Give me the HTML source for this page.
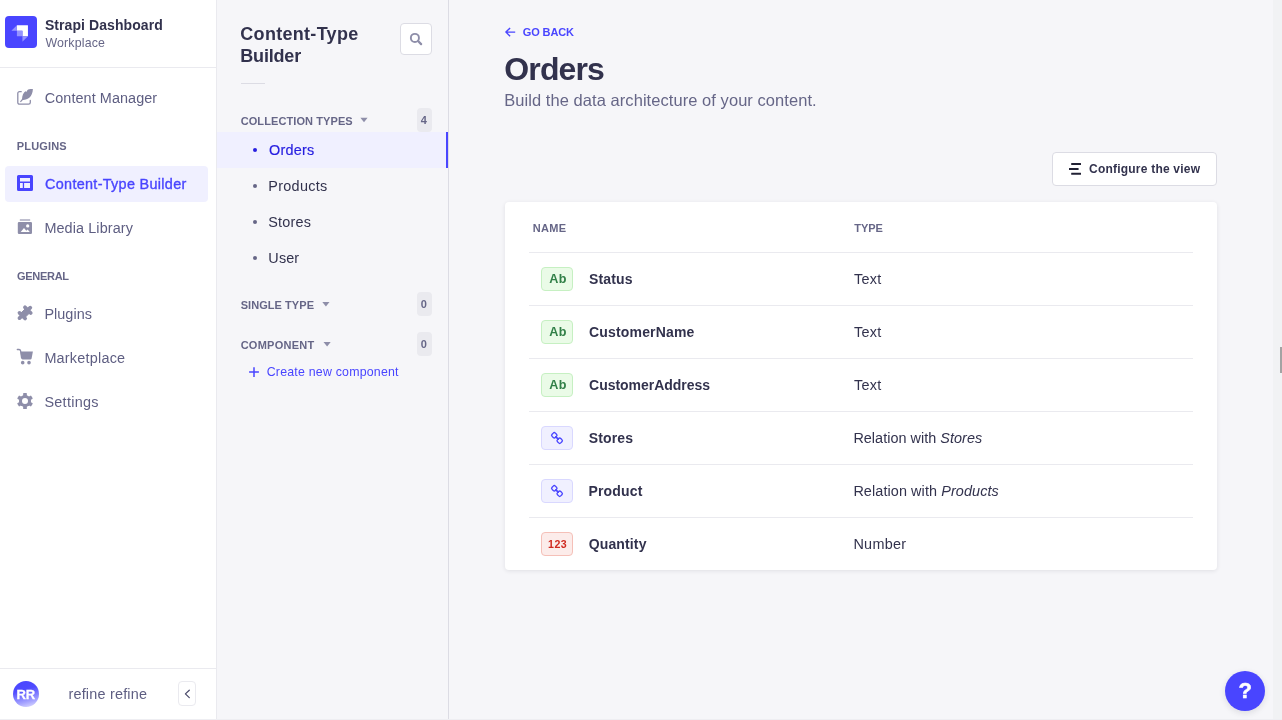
<!DOCTYPE html>
<html lang="en">
<head>
<meta charset="utf-8">
<title>Strapi Dashboard</title>
<style>
*{box-sizing:border-box;margin:0;padding:0}
html,body{width:1282px;height:720px;overflow:hidden}
body{font-family:"Liberation Sans",sans-serif;background:#f6f6f9;color:#32324d;position:relative}
.abs{position:absolute}
.t{position:absolute;white-space:nowrap;line-height:1}
#txt{position:absolute;left:0;top:0;width:1282px;height:720px;z-index:6;will-change:transform}
#nav{position:absolute;left:0;top:0;width:217px;height:719px;background:#fff;border-right:1px solid #eaeaef}
#logo{position:absolute;left:5px;top:16px;width:32px;height:32px;border-radius:4px;background:#4945ff}
.navdiv{position:absolute;left:0;width:216px;height:1px;background:#eaeaef}
#active{position:absolute;left:5px;top:166px;width:203px;height:36px;border-radius:4px;background:#f0f0ff}
#sub{position:absolute;left:217px;top:0;width:232px;height:719px;background:#f6f6f9;border-right:1px solid #dcdce4}
.bullet{position:absolute;width:4px;height:4px;border-radius:50%;background:#666687;left:253px}
.badge{position:absolute;left:417px;width:15px;height:24px;border-radius:4px;background:#eaeaef}
#card{position:absolute;left:505px;top:202px;width:712px;height:368px;background:#fff;border-radius:4px;box-shadow:0 1px 4px rgba(33,33,52,.1)}
.rowdiv{position:absolute;left:529px;width:664px;height:1px;background:#eaeaef}
.ico{position:absolute;left:541px;width:32px;height:24px;border-radius:4px;border:1px solid}
.ico.txt{background:#eafbe7;border-color:#c6f0c2}
.ico.rel{background:#f0f0ff;border-color:#d9d8ff}
.ico.num{background:#fcecea;border-color:#f5c0b8}
</style>
</head>
<body>
<div id="nav"></div>
<div id="logo"></div>
<div class="navdiv" style="top:67px"></div>
<div id="active"></div>
<div class="navdiv" style="top:668px"></div>
<div class="abs" style="left:13px;top:681px;width:26px;height:26px;border-radius:50%;background:linear-gradient(165deg,#4945ff 0%,#4f4bff 35%,#a5a3ff 75%,#e6e5ff 100%)"></div>
<div class="abs" style="left:178px;top:681px;width:18px;height:25px;border:1px solid #eaeaef;border-radius:4px;background:#fff"></div>

<div id="sub"></div>
<div class="abs" style="left:400px;top:23px;width:32px;height:32px;border:1px solid #dcdce4;border-radius:4px;background:#fff"></div>
<div class="abs" style="left:241px;top:83px;width:24px;height:1px;background:#dcdce4"></div>
<div class="badge" style="top:108px"></div>
<div class="abs" style="left:217px;top:132px;width:231px;height:36px;background:#f0f0ff;border-right:2px solid #4945ff"></div>
<div class="bullet" style="top:148px;background:#271fe0"></div>
<div class="bullet" style="top:184px"></div>
<div class="bullet" style="top:220px"></div>
<div class="bullet" style="top:256px"></div>
<div class="badge" style="top:292px"></div>
<div class="badge" style="top:332px"></div>

<div class="abs" style="left:1052px;top:152px;width:165px;height:34px;border:1px solid #dcdce4;border-radius:4px;background:#fff"></div>
<div id="card"></div>
<div class="rowdiv" style="top:252px"></div>
<div class="rowdiv" style="top:305px"></div>
<div class="rowdiv" style="top:358px"></div>
<div class="rowdiv" style="top:411px"></div>
<div class="rowdiv" style="top:464px"></div>
<div class="rowdiv" style="top:517px"></div>
<div class="ico txt" style="top:267px"></div>
<div class="ico txt" style="top:320px"></div>
<div class="ico txt" style="top:373px"></div>
<div class="ico rel" style="top:426px"></div>
<div class="ico rel" style="top:479px"></div>
<div class="ico num" style="top:532px"></div>

<div class="abs" style="left:1225px;top:671px;width:40px;height:40px;border-radius:50%;background:#4945ff;box-shadow:0 2px 6px rgba(33,33,52,.12)"></div>
<div class="abs" style="left:1273px;top:0;width:9px;height:720px;background:#f1f2f4"></div>
<div class="abs" style="left:1280px;top:347px;width:2px;height:26px;background:#a3a3a3"></div>
<div class="abs" style="left:0;top:719px;width:1282px;height:1px;background:#eeeef2"></div>
<svg class="abs" style="left:0;top:0;z-index:5;pointer-events:none" width="1282" height="720" viewBox="0 0 1282 720">
<!-- strapi logo -->
<g transform="translate(5.700 15.200)" style="filter:blur(.25px)">
<path d="M22.03 9.97H11.21v5.51h5.52V21h5.51V10.18a.21.21 0 0 0-.21-.21Z" fill="#fff"/>
<path d="M11.21 15.48h5.3c.12 0 .22.1.22.22V21h-5.3a.21.21 0 0 1-.22-.21v-5.3ZM16.73 21h5.51l-5.33 5.33c-.07.07-.18.02-.18-.08V21ZM11.21 15.48H5.96c-.1 0-.14-.11-.08-.18l5.33-5.33v5.51Z" fill="#9593ff"/>
</g>
<!-- content manager (write) -->
<path d="M21.200 91.650H19.500A1.700 1.700 0 0 0 17.800 93.350V102.500A1.700 1.700 0 0 0 19.500 104.200H28.600A1.700 1.700 0 0 0 30.300 102.500V100.500" fill="none" stroke="#8e8ea9" stroke-width="1.300" stroke-linecap="round"/>
<path d="M32.900 89.100C31 88.900 28.600 89.100 27.300 90.200L26.700 91.700L25.500 91.200C23.400 92.700 22.200 95.200 22 99L20 101.600L20.800 102.200L22.900 99.900C27.500 100 32.600 97.300 32.900 89.100Z" fill="#8e8ea9"/>
<!-- content-type builder (layout) -->
<path fill-rule="evenodd" fill="#4945ff" d="M18.500 175h13a1.500 1.500 0 0 1 1.500 1.500v13a1.500 1.500 0 0 1-1.500 1.500h-13a1.500 1.500 0 0 1-1.500-1.500v-13a1.500 1.500 0 0 1 1.500-1.500ZM20 178v3.400h10V178ZM20 183v5h2.800v-5ZM24.100 183v5H30v-5Z"/>
<!-- media library -->
<rect x="19.800" y="219.200" width="10.400" height="1.500" rx=".3" fill="#8e8ea9" opacity=".75"/>
<rect x="17.800" y="221.900" width="14.200" height="12.100" rx="1.200" fill="#8e8ea9"/>
<circle cx="27.700" cy="225.900" r="1.650" fill="#fff"/>
<path d="M20.700 231.900L24 227.900L26.300 230.700L27.600 229.600L29.800 231.900Z" fill="#fff"/>
<!-- plugins (puzzle) -->
<g stroke="#8e8ea9" stroke-width="3.800" stroke-linecap="round" fill="#8e8ea9">
<path d="M19.500 318.100L30.300 307.700M19.500 312.900l5.600 5.600M25 307.300l5.700 5.700"/>
<path d="M21 313l4-4 4.500 4-4.300 4.300Z" stroke-width="1"/>
</g>
<!-- marketplace (cart) -->
<path d="M17.300 349.500h1.700q1.400 0 1.600 1.400l1 7" fill="none" stroke="#8e8ea9" stroke-width="1.300" stroke-linecap="round"/>
<path d="M20.400 351.600H32.900l-1.300 6.800q-.2 1.100-1.300 1.100h-7.500q-1.100 0-1.300-1.100Z" fill="#8e8ea9"/>
<circle cx="22.700" cy="362.650" r="1.800" fill="#8e8ea9"/><circle cx="29" cy="362.650" r="1.800" fill="#8e8ea9"/>
<!-- settings (gear) -->
<circle cx="25" cy="401" r="6.05" fill="#8e8ea9"/><rect x="23.15" y="393" width="3.7" height="4.5" rx=".6" fill="#8e8ea9" transform="rotate(0 25 401)"/><rect x="23.15" y="393" width="3.7" height="4.5" rx=".6" fill="#8e8ea9" transform="rotate(60 25 401)"/><rect x="23.15" y="393" width="3.7" height="4.5" rx=".6" fill="#8e8ea9" transform="rotate(120 25 401)"/><rect x="23.15" y="393" width="3.7" height="4.5" rx=".6" fill="#8e8ea9" transform="rotate(180 25 401)"/><rect x="23.15" y="393" width="3.7" height="4.5" rx=".6" fill="#8e8ea9" transform="rotate(240 25 401)"/><rect x="23.15" y="393" width="3.7" height="4.5" rx=".6" fill="#8e8ea9" transform="rotate(300 25 401)"/><circle cx="25" cy="401" r="3.0" fill="#fff"/>
<!-- collapse chevron -->
<path d="M189.300 690.200l-3.900 3.700 3.900 3.700" fill="none" stroke="#4a4a6a" stroke-width="1.250" stroke-linecap="round" stroke-linejoin="round"/>
<!-- search -->
<circle cx="414.900" cy="37.900" r="4.050" fill="none" stroke="#8e8ea9" stroke-width="1.900"/>
<path d="M418.300 41.300l2.800 2.800" stroke="#8e8ea9" stroke-width="2.300" stroke-linecap="round"/>
<!-- carets -->
<path d="M360.400 117.800h7.200l-3.600 4.500Z" fill="#8e8ea9"/>
<path d="M322.300 301.900h7.200l-3.600 4.500Z" fill="#8e8ea9"/>
<path d="M323.500 342h7.200l-3.600 4.500Z" fill="#8e8ea9"/>
<!-- plus -->
<path d="M254 367.200v9.800M249.100 372.100h9.800" stroke="#4945ff" stroke-width="1.500"/>
<!-- back arrow -->
<path d="M506 32.100h9.200M510.100 27.900l-4.200 4.200 4.200 4.200" fill="none" stroke="#4945ff" stroke-width="1.400" stroke-linejoin="round"/>
<!-- configure icon -->
<g fill="#212134"><rect x="1071.200" y="163.050" width="9.800" height="2" rx=".3"/><rect x="1069" y="167.950" width="9.600" height="2.100" rx=".3"/><rect x="1071.200" y="172.800" width="9.800" height="2.050" rx=".3"/></g>
<!-- link icons -->
<g fill="none" stroke="#4945ff" stroke-width="1.350">
<rect x="-2.300" y="-2.300" width="4.600" height="4.600" rx="1.500" transform="translate(554.300 435.3) rotate(45)"/>
<rect x="-2.300" y="-2.300" width="4.600" height="4.600" rx="1.500" transform="translate(559.700 440.7) rotate(45)"/>
<path d="M555.900 436.9l2.300 2.300" stroke-width="1.700" stroke-linecap="round"/>
</g>
<g fill="none" stroke="#4945ff" stroke-width="1.350">
<rect x="-2.300" y="-2.300" width="4.600" height="4.600" rx="1.500" transform="translate(554.300 488.3) rotate(45)"/>
<rect x="-2.300" y="-2.300" width="4.600" height="4.600" rx="1.500" transform="translate(559.700 493.7) rotate(45)"/>
<path d="M555.900 489.9l2.300 2.300" stroke-width="1.700" stroke-linecap="round"/>
</g>
</svg>
<div id="txt">
<div class="t" id="brand" style="left:44.95px;top:18.15px;font-size:14.0px;font-weight:700;letter-spacing:0.072px;color:#32324d;">Strapi Dashboard</div>
<div class="t" id="workplace" style="left:45.39px;top:36.54px;font-size:12.36px;font-weight:400;letter-spacing:0.17px;color:#666687;">Workplace</div>
<div class="t" id="cm" style="left:44.82px;top:90.89px;font-size:14.42px;font-weight:400;letter-spacing:0.072px;color:#5e5e82;">Content Manager</div>
<div class="t" id="lplugins" style="left:16.76px;top:141.09px;font-size:11.0px;font-weight:700;letter-spacing:0.165px;color:#666687;">PLUGINS</div>
<div class="t" id="ctb" style="left:45.08px;top:176.69px;font-size:14.42px;font-weight:400;letter-spacing:0.307px;color:#4945ff;-webkit-text-stroke:.35px #4945ff;">Content-Type Builder</div>
<div class="t" id="ml" style="left:44.39px;top:220.79px;font-size:14.42px;font-weight:400;letter-spacing:0.101px;color:#5e5e82;">Media Library</div>
<div class="t" id="lgeneral" style="left:16.97px;top:270.69px;font-size:11.0px;font-weight:700;letter-spacing:-0.292px;color:#666687;">GENERAL</div>
<div class="t" id="plug" style="left:44.39px;top:306.79px;font-size:14.42px;font-weight:400;letter-spacing:0.05px;color:#5e5e82;">Plugins</div>
<div class="t" id="mkt" style="left:44.39px;top:350.69px;font-size:14.42px;font-weight:400;letter-spacing:0.222px;color:#5e5e82;">Marketplace</div>
<div class="t" id="set" style="left:44.42px;top:394.89px;font-size:14.42px;font-weight:400;letter-spacing:0.292px;color:#5e5e82;">Settings</div>
<div class="t" id="rr" style="left:16.38px;top:688.0px;font-size:13.0px;font-weight:700;letter-spacing:0.072px;color:#ffffff;-webkit-text-stroke:.3px #fff;">RR</div>
<div class="t" id="usr" style="left:68.4px;top:686.79px;font-size:14.42px;font-weight:400;letter-spacing:0.213px;color:#5e5e82;">refine refine</div>
<div class="t" id="title1" style="left:240.34px;top:25.06px;font-size:18.0px;font-weight:700;letter-spacing:0.291px;color:#32324d;">Content-Type</div>
<div class="t" id="title2" style="left:240.28px;top:46.76px;font-size:18.0px;font-weight:700;letter-spacing:-0.183px;color:#32324d;">Builder</div>
<div class="t" id="ct" style="left:240.67px;top:115.89px;font-size:11.0px;font-weight:700;letter-spacing:0.092px;color:#666687;">COLLECTION TYPES</div>
<div class="t" id="b4" style="left:420.71px;top:114.89px;font-size:11.0px;font-weight:700;letter-spacing:0.0px;color:#666687;">4</div>
<div class="t" id="orders" style="left:269.03px;top:142.69px;font-size:14.42px;font-weight:400;letter-spacing:0.216px;color:#271fe0;-webkit-text-stroke:.2px #271fe0;">Orders</div>
<div class="t" id="products" style="left:268.29px;top:178.79px;font-size:14.42px;font-weight:400;letter-spacing:0.294px;color:#32324d;">Products</div>
<div class="t" id="stores" style="left:268.32px;top:214.89px;font-size:14.42px;font-weight:400;letter-spacing:0.191px;color:#32324d;">Stores</div>
<div class="t" id="user2" style="left:268.37px;top:250.99px;font-size:14.42px;font-weight:400;letter-spacing:0.118px;color:#32324d;">User</div>
<div class="t" id="st" style="left:240.69px;top:300.09px;font-size:11.0px;font-weight:700;letter-spacing:0.055px;color:#666687;">SINGLE TYPE</div>
<div class="t" id="b0a" style="left:420.83px;top:299.19px;font-size:11.0px;font-weight:700;letter-spacing:0.0px;color:#666687;">0</div>
<div class="t" id="comp" style="left:240.67px;top:340.09px;font-size:11.0px;font-weight:700;letter-spacing:0.253px;color:#666687;">COMPONENT</div>
<div class="t" id="b0b" style="left:420.83px;top:339.19px;font-size:11.0px;font-weight:700;letter-spacing:0.0px;color:#666687;">0</div>
<div class="t" id="cnc" style="left:266.74px;top:365.54px;font-size:12.36px;font-weight:400;letter-spacing:0.208px;color:#4945ff;">Create new component</div>
<div class="t" id="goback" style="left:522.77px;top:26.59px;font-size:11.0px;font-weight:700;letter-spacing:-0.119px;color:#4945ff;">GO BACK</div>
<div class="t" id="h1" style="left:504.26px;top:53.11px;font-size:32.0px;font-weight:700;letter-spacing:-0.858px;color:#32324d;">Orders</div>
<div class="t" id="subt" style="left:504.24px;top:92.05px;font-size:16.48px;font-weight:400;letter-spacing:0.069px;color:#666687;">Build the data architecture of your content.</div>
<div class="t" id="btn" style="left:1089.05px;top:162.84px;font-size:12.0px;font-weight:700;letter-spacing:0.213px;color:#32324d;">Configure the view</div>
<div class="t" id="thname" style="left:532.76px;top:222.59px;font-size:11.0px;font-weight:700;letter-spacing:0.28px;color:#666687;">NAME</div>
<div class="t" id="thtype" style="left:854.25px;top:222.69px;font-size:11.0px;font-weight:700;letter-spacing:-0.022px;color:#666687;">TYPE</div>
<div class="t" id="n1" style="left:588.95px;top:272.05px;font-size:14.0px;font-weight:700;letter-spacing:0.182px;color:#32324d;">Status</div>
<div class="t" id="n2" style="left:589.1px;top:325.05px;font-size:14.0px;font-weight:700;letter-spacing:0.162px;color:#32324d;">CustomerName</div>
<div class="t" id="n3" style="left:589.1px;top:378.05px;font-size:14.0px;font-weight:700;letter-spacing:-0.027px;color:#32324d;">CustomerAddress</div>
<div class="t" id="n4" style="left:588.75px;top:431.05px;font-size:14.0px;font-weight:700;letter-spacing:0.152px;color:#32324d;">Stores</div>
<div class="t" id="n5" style="left:588.4px;top:484.05px;font-size:14.0px;font-weight:700;letter-spacing:0.197px;color:#32324d;">Product</div>
<div class="t" id="n6" style="left:588.75px;top:537.05px;font-size:14.0px;font-weight:700;letter-spacing:0.131px;color:#32324d;">Quantity</div>
<div class="t" id="t1" style="left:854.05px;top:271.79px;font-size:14.42px;font-weight:400;letter-spacing:0.244px;color:#32324d;">Text</div>
<div class="t" id="t2" style="left:854.05px;top:324.79px;font-size:14.42px;font-weight:400;letter-spacing:0.244px;color:#32324d;">Text</div>
<div class="t" id="t3" style="left:854.05px;top:377.79px;font-size:14.42px;font-weight:400;letter-spacing:0.244px;color:#32324d;">Text</div>
<div class="t" id="t4" style="left:853.39px;top:430.79px;font-size:14.42px;font-weight:400;letter-spacing:0.035px;color:#32324d;">Relation with <i>Stores</i></div>
<div class="t" id="t5" style="left:853.39px;top:483.79px;font-size:14.42px;font-weight:400;letter-spacing:0.096px;color:#32324d;">Relation with <i>Products</i></div>
<div class="t" id="t6" style="left:853.39px;top:536.79px;font-size:14.42px;font-weight:400;letter-spacing:0.305px;color:#32324d;">Number</div>
<div class="t" id="ab1" style="left:549.3px;top:273.03px;font-size:12.6px;font-weight:700;letter-spacing:0.267px;color:#328048;">Ab</div>
<div class="t" id="ab2" style="left:549.3px;top:326.03px;font-size:12.6px;font-weight:700;letter-spacing:0.267px;color:#328048;">Ab</div>
<div class="t" id="ab3" style="left:549.3px;top:379.03px;font-size:12.6px;font-weight:700;letter-spacing:0.267px;color:#328048;">Ab</div>
<div class="t" id="i123" style="left:548.08px;top:539.13px;font-size:10.6px;font-weight:700;letter-spacing:0.431px;color:#d02b20;">123</div>
<div class="t" id="help" style="left:1238.58px;top:680.28px;font-size:22.0px;font-weight:700;letter-spacing:0.0px;color:#ffffff;-webkit-text-stroke:.5px #fff;">?</div>
</div>
</body>
</html>
